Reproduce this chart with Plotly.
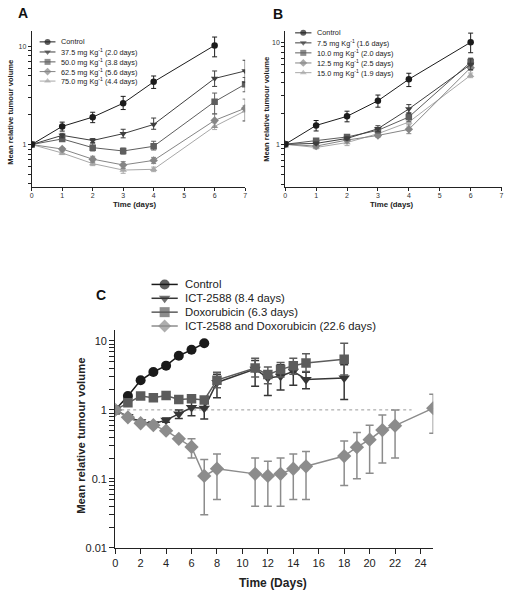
import plotly.graph_objects as go

W, H = 510, 600
FONT = "Liberation Sans, Arial, sans-serif"

# ---------------- Panel A data ----------------
a_names = ["Control", "37.5 mg Kg<sup>-1</sup> (2.0 days)", "50.0 mg Kg<sup>-1</sup> (3.8 days)",
           "62.5 mg Kg<sup>-1</sup> (5.6 days)", "75.0 mg Kg<sup>-1</sup> (4.4 days)"]
a_days_ctrl = [0, 1, 2, 3, 4, 6]
a_days = [0, 1, 2, 3, 4, 6, 7]
a_ctrl = [1, 1.53, 1.90, 2.63, 4.34, 10.2]
a_ctrl_hi = [1, 1.69, 2.13, 3.09, 4.98, 12.4]
a_ctrl_lo = [1, 1.37, 1.67, 2.27, 3.72, 7.8]
a_375 = [1, 1.24, 1.10, 1.29, 1.60, 4.70, 5.6]
a_375_hi = [1, 1.30, 1.15, 1.43, 1.86, 5.6, 7.2]
a_375_lo = [1, 1.17, 1.05, 1.17, 1.43, 3.9, 4.27]
a_500 = [1, 1.14, 0.93, 0.86, 0.96, 2.73, 4.11]
a_500_hi = [1, 1.20, 1.02, 0.92, 1.08, 3.34, 4.81]
a_500_lo = [1, 1.08, 0.86, 0.80, 0.88, 2.05, 3.44]
a_625 = [1, 0.90, 0.71, 0.62, 0.69, 1.76, 2.34]
a_625_hi = [1, 0.93, 0.76, 0.67, 0.74, 2.05, 2.9]
a_625_lo = [1, 0.87, 0.66, 0.57, 0.64, 1.50, 1.75]
a_750 = [1, 0.82, 0.64, 0.55, 0.56, 1.53, 2.2]
a_750_hi = [1, 0.85, 0.67, 0.58, 0.59, 1.66, 2.5]
a_750_lo = [1, 0.79, 0.61, 0.51, 0.53, 1.42, 1.72]

# ---------------- Panel B data ----------------
b_names = ["Control", "7.5 mg Kg<sup>-1</sup> (1.6 days)", "10.0 mg Kg<sup>-1</sup> (2.0 days)",
           "12.5 mg Kg<sup>-1</sup> (2.5 days)", "15.0 mg Kg<sup>-1</sup> (1.9 days)"]
b_days = [0, 1, 2, 3, 4, 6]
b_ctrl = [1, 1.53, 1.88, 2.67, 4.34, 10.0]
b_ctrl_hi = [1, 1.71, 2.11, 3.04, 4.97, 12.3]
b_ctrl_lo = [1, 1.35, 1.66, 2.31, 3.68, 7.9]
b_75 = [1, 1.02, 1.14, 1.42, 2.22, 6.07]
b_75_hi = [1, 1.05, 1.18, 1.52, 2.45, 6.9]
b_75_lo = [1, 0.99, 1.10, 1.33, 2.00, 5.4]
b_100 = [1, 1.08, 1.18, 1.37, 1.85, 6.4]
b_100_hi = [1, 1.11, 1.21, 1.45, 2.05, 7.0]
b_100_lo = [1, 1.05, 1.15, 1.30, 1.68, 5.9]
b_125 = [1, 0.96, 1.10, 1.22, 1.40, 5.64]
b_125_hi = [1, 0.99, 1.13, 1.27, 1.55, 6.0]
b_125_lo = [1, 0.93, 1.07, 1.17, 1.27, 5.3]
b_150 = [1, 0.93, 1.04, 1.27, 1.65, 4.75]
b_150_hi = [1, 0.96, 1.10, 1.33, 1.85, 5.0]
b_150_lo = [1, 0.90, 0.97, 1.21, 1.48, 4.5]

# ---------------- Panel C data ----------------
c_names = ["Control", "ICT-2588 (8.4 days)", "Doxorubicin (6.3 days)",
           "ICT-2588 and Doxorubicin (22.6 days)"]
c_days_ctrl = [0, 1, 2, 3, 4, 5, 6, 7]
c_ctrl = [1, 1.59, 2.69, 3.54, 4.38, 6.1, 7.43, 9.25]
c_days_ict = [0, 1, 2, 3, 4, 5, 6, 7, 8, 11, 12, 13, 14, 15, 18]
c_ict = [1, 0.80, 0.67, 0.63, 0.71, 0.87, 1.08, 1.06, 2.5, 3.9, 2.91, 3.07, 3.63, 2.76, 2.91]
c_ict_hi = [1, 0.80, 0.67, 0.63, 0.76, 1.0, 1.35, 1.42, 3.3, 5.2, 3.6, 4.5, 4.9, 3.5, 4.5]
c_ict_lo = [1, 0.80, 0.67, 0.63, 0.66, 0.75, 0.82, 0.74, 1.5, 2.2, 1.62, 1.94, 2.28, 2.02, 1.42]
c_days_dox = [0, 1, 2, 3, 4, 5, 6, 7, 8, 11, 12, 13, 14, 15, 18]
c_dox = [1, 1.27, 1.59, 1.50, 1.62, 1.42, 1.45, 1.39, 2.7, 4.04, 3.25, 3.84, 4.38, 4.77, 5.44]
c_dox_hi = [1, 1.27, 1.59, 1.50, 1.62, 1.42, 1.45, 1.39, 3.5, 5.63, 4.2, 4.88, 5.63, 6.5, 9.25]
c_dox_lo = [1, 1.27, 1.59, 1.50, 1.62, 1.42, 1.45, 1.39, 2.1, 3.0, 2.4, 3.0, 3.3, 3.6, 3.2]
c_days_combo = [0, 1, 2, 3, 4, 5, 6, 7, 8, 11, 12, 13, 14, 15, 18, 19, 20, 21, 22, 25]
c_combo = [1, 0.78, 0.64, 0.60, 0.50, 0.38, 0.29, 0.11, 0.14, 0.118, 0.11, 0.118, 0.14, 0.152,
           0.214, 0.288, 0.37, 0.51, 0.59, 1.06]
c_combo_hi = [1, 0.78, 0.64, 0.60, 0.50, 0.38, 0.38, 0.19, 0.23, 0.20, 0.18, 0.20, 0.23, 0.25,
              0.355, 0.47, 0.60, 0.84, 1.0, 1.68]
c_combo_lo = [1, 0.78, 0.64, 0.60, 0.50, 0.38, 0.20, 0.03, 0.05, 0.04, 0.04, 0.04, 0.05, 0.05,
              0.08, 0.10, 0.12, 0.17, 0.20, 0.46]
c_ref_days = [0, 23.3]
c_ref_level = [1, 1]

# ---------------- styles ----------------
ab_colors = ["#1c1c1c", "#3e3e3e", "#5e5e5e", "#858585", "#a8a8a8"]
ab_symbols = ["circle", "triangle-down", "square", "diamond", "triangle-up"]
c_colors = ["#1a1a1a", "#363636", "#5c5c5c", "#8c8c8c"]
c_symbols = ["circle", "triangle-down", "square", "diamond"]


def dom_x(p0, p1):
    return [p0 / W, p1 / W]


def dom_y(top, bottom):
    return [1 - bottom / H, 1 - top / H]


def px(x):
    return x / W


def py(y):
    return 1 - y / H


fig = go.Figure()


def add_series(xs, ys, hi, lo, color, symbol, size, xa, ya, lw, ew, ewid):
    err = None
    if hi is not None:
        err = dict(type="data", symmetric=False,
                   array=[h - v for h, v in zip(hi, ys)],
                   arrayminus=[v - l for v, l in zip(ys, lo)],
                   color=color, thickness=ew, width=ewid)
    fig.add_trace(go.Scatter(
        x=xs, y=ys, mode="lines+markers", xaxis=xa, yaxis=ya,
        line=dict(color=color, width=lw),
        marker=dict(symbol=symbol, size=size, color=color, line=dict(width=0)),
        error_y=err, showlegend=False, hoverinfo="skip"))


# Panel A
a_series = [(a_days_ctrl, a_ctrl, a_ctrl_hi, a_ctrl_lo), (a_days, a_375, a_375_hi, a_375_lo),
            (a_days, a_500, a_500_hi, a_500_lo), (a_days, a_625, a_625_hi, a_625_lo),
            (a_days, a_750, a_750_hi, a_750_lo)]
for i, (xs, ys, hi, lo) in reversed(list(enumerate(a_series))):
    add_series(xs, ys, hi, lo, ab_colors[i], ab_symbols[i], 6.5, "x", "y", 1, 1, 2.5)

# Panel B
b_series = [(b_days, b_ctrl, b_ctrl_hi, b_ctrl_lo), (b_days, b_75, b_75_hi, b_75_lo),
            (b_days, b_100, b_100_hi, b_100_lo), (b_days, b_125, b_125_hi, b_125_lo),
            (b_days, b_150, b_150_hi, b_150_lo)]
for i, (xs, ys, hi, lo) in reversed(list(enumerate(b_series))):
    add_series(xs, ys, hi, lo, ab_colors[i], ab_symbols[i], 6.5, "x2", "y2", 1, 1, 2.5)

# Panel C
fig.add_trace(go.Scatter(x=c_ref_days, y=c_ref_level, mode="lines", xaxis="x3", yaxis="y3",
                         line=dict(color="#9a9a9a", width=1, dash="dot"),
                         showlegend=False, hoverinfo="skip"))
c_series = [(c_days_ctrl, c_ctrl, None, None), (c_days_ict, c_ict, c_ict_hi, c_ict_lo),
            (c_days_dox, c_dox, c_dox_hi, c_dox_lo), (c_days_combo, c_combo, c_combo_hi, c_combo_lo)]
c_sizes = [10, 10, 9.5, 11]
for i, (xs, ys, hi, lo) in enumerate(c_series):
    add_series(xs, ys, hi, lo, c_colors[i], c_symbols[i], c_sizes[i], "x3", "y3", 1.5, 1.5, 4)

# ---------------- legends (overlay pixel axis) ----------------
annotations = []


def legend_block(names, colors, symbols, x0, x1, ys, tx, fsize, msize, lw):
    for name, col, sym, yy in zip(names, colors, symbols, ys):
        fig.add_trace(go.Scatter(x=[x0, (x0 + x1) / 2, x1], y=[yy, yy, yy], mode="lines+markers",
                                 xaxis="x4", yaxis="y4",
                                 line=dict(color=col, width=lw),
                                 marker=dict(symbol=sym, size=[0, msize, 0], color=col, line=dict(width=0)),
                                 showlegend=False, hoverinfo="skip"))
        annotations.append(dict(x=px(tx), y=py(yy), xref="paper", yref="paper", text=name,
                                showarrow=False, xanchor="left", yanchor="middle",
                                font=dict(family=FONT, size=fsize, color="#222")))


legend_block(a_names, ab_colors, ab_symbols, 37, 53, [42.3, 52.5, 62.5, 72.3, 81.9], 56.5, 7.3, 6, 1)
legend_block(b_names, ab_colors, ab_symbols, 295, 311.5, [33.2, 43.3, 53.4, 63.6, 73.4], 315.5, 7.3, 6, 1)
legend_block(c_names, c_colors, c_symbols, 150, 176.5, [287.3, 301.3, 315.3, 329.3], 181.5, 11.3, 10, 1.5)

# panel labels and axis titles
for txt, x, y, s in [("A", 20.5, 13.5, 14), ("B", 277.5, 14, 14), ("C", 99, 297.5, 14)]:
    annotations.append(dict(x=px(x), y=py(y), xref="paper", yref="paper", text="<b>%s</b>" % txt,
                            showarrow=False, xanchor="center", yanchor="middle",
                            font=dict(family=FONT, size=s, color="#111")))
for x, y, s in [(8, 113, 7.6), (266.5, 110, 7.6), (78, 440, 11.3)]:
    annotations.append(dict(x=px(x), y=py(y), xref="paper", yref="paper",
                            text="<b>Mean relative tumour volume</b>", textangle=-90,
                            showarrow=False, xanchor="center", yanchor="middle",
                            font=dict(family=FONT, size=s, color="#222")))
for txt, x, y, s in [("Time (days)", 133, 206.5, 7.8), ("Time (days)", 393, 206.5, 7.8),
                     ("Time (Days)", 273, 589, 12)]:
    annotations.append(dict(x=px(x), y=py(y), xref="paper", yref="paper", text="<b>%s</b>" % txt,
                            showarrow=False, xanchor="center", yanchor="middle",
                            font=dict(family=FONT, size=s, color="#222")))

minor_ab = [0.4, 0.5, 0.6, 0.7, 0.8, 0.9, 2, 3, 4, 5, 6, 7, 8, 9]
minor_c = [0.02, 0.03, 0.04, 0.05, 0.06, 0.07, 0.08, 0.09, 0.2, 0.3, 0.4, 0.5, 0.6, 0.7, 0.8, 0.9,
           2, 3, 4, 5, 6, 7, 8, 9]

ax_common = dict(showline=True, linecolor="#222", linewidth=1, ticks="outside", tickcolor="#222",
                 showgrid=False, zeroline=False, fixedrange=True)
small_font = dict(family=FONT, size=7, color="#333")
c_font = dict(family=FONT, size=11, color="#222")

fig.update_layout(
    width=W, height=H, margin=dict(l=0, r=0, t=0, b=0),
    paper_bgcolor="white", plot_bgcolor="rgba(0,0,0,0)", showlegend=False,
    xaxis=dict(domain=dom_x(29, 244.5), range=[0, 7], tickvals=list(range(8)), ticklen=3,
               ticklabelstandoff=-2, tickfont=small_font, anchor="y", **ax_common),
    yaxis=dict(domain=dom_y(31.7, 189), type="log", range=[-0.433, 1.151], tickvals=[1, 10],
               ticktext=["1", "10"], ticklen=3, tickfont=small_font, anchor="x",
               minor=dict(tickvals=minor_ab, ticks="outside", ticklen=3, tickcolor="#222"), **ax_common),
    xaxis2=dict(domain=dom_x(285, 503.5), range=[0, 7], tickvals=list(range(8)), ticklen=3,
                ticklabelstandoff=-2, tickfont=small_font, anchor="y2", **ax_common),
    yaxis2=dict(domain=dom_y(31.7, 189.3), type="log", range=[-0.423, 1.107], tickvals=[1, 10],
                ticktext=["1", "10"], ticklen=3, tickfont=small_font, anchor="x2",
                minor=dict(tickvals=minor_ab, ticks="outside", ticklen=3, tickcolor="#222"), **ax_common),
    xaxis3=dict(domain=dom_x(113.3, 434.5), range=[0, 25], tickvals=list(range(0, 25, 2)), ticklen=5,
                tickfont=c_font, anchor="y3", **ax_common),
    yaxis3=dict(domain=dom_y(333.3, 553.3), type="log", range=[-2, 1.159], tickvals=[0.01, 0.1, 1, 10],
                ticktext=["0.01", "0.1", "1", "10"], ticklen=5, tickfont=c_font, anchor="x3",
                minor=dict(tickvals=minor_c, ticks="outside", ticklen=5, tickcolor="#222"), **ax_common),
    xaxis4=dict(domain=[0, 1], range=[0, W], visible=False, fixedrange=True, anchor="y4"),
    yaxis4=dict(domain=[0, 1], range=[H, 0], visible=False, fixedrange=True, anchor="x4"),
    annotations=annotations,
)

fig.write_html("out.html", config={"displayModeBar": False},
               post_script="document.body.style.margin='0';document.body.style.overflow='hidden';")
